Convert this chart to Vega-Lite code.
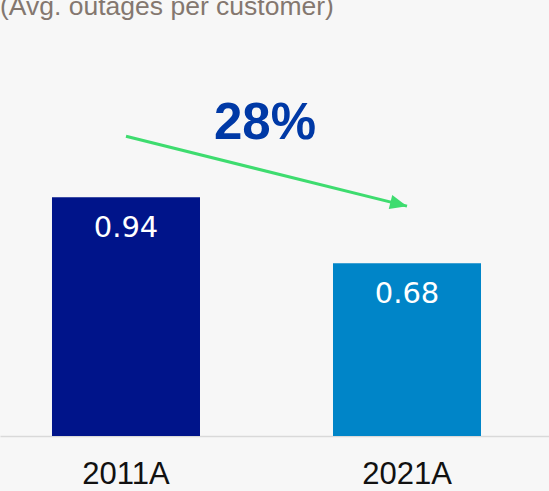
{
  "$schema": "https://vega.github.io/schema/vega-lite/v6.json",
  "width": 549,
  "height": 381,
  "autosize": {"type": "none"},
  "padding": {"top": 55, "left": 0, "right": 0, "bottom": 55},
  "background": "#f7f7f7",
  "title": {
    "text": "(Avg. outages per customer)",
    "anchor": "start",
    "frame": "group",
    "font": "Liberation Sans",
    "fontSize": 26.5,
    "fontWeight": "normal",
    "color": "#84776f",
    "baseline": "alphabetic",
    "offset": 34,
    "dy": 20
  },
  "config": {
    "view": {"stroke": null},
    "axisX": {
      "title": null,
      "labelFont": "Liberation Sans",
      "labelFontSize": 31,
      "labelColor": "#111111",
      "labelPadding": 47,
      "labelBaseline": "alphabetic",
      "labelAngle": 0,
      "ticks": false,
      "tickSize": 0,
      "domainColor": "#d9d9d9",
      "domainWidth": 1.5,
      "grid": false
    }
  },
  "encoding": {
    "x": {
      "field": "period",
      "type": "nominal",
      "scale": {"domain": ["2011A", "2021A"], "paddingInner": 0.4733, "paddingOuter": 0.2135, "align": 0.4333},
      "axis": {"title": null}
    }
  },
  "layer": [
    {
      "data": {"values": [
        {"period": "2011A", "value": 0.94, "label": "0.94"},
        {"period": "2021A", "value": 0.68, "label": "0.68"}
      ]},
      "layer": [
        {
          "mark": {"type": "bar"},
          "encoding": {
            "y": {"field": "value", "type": "quantitative", "scale": {"domain": [0, 1.5], "nice": false, "zero": true}, "axis": null},
            "color": {"field": "period", "type": "nominal", "scale": {"domain": ["2011A", "2021A"], "range": ["#00148a", "#0085c8"]}, "legend": null}
          }
        },
        {
          "mark": {"type": "text", "color": "#ffffff", "font": "DejaVu Sans", "fontSize": 29, "baseline": "alphabetic", "dy": 40},
          "encoding": {
            "y": {"field": "value", "type": "quantitative", "scale": {"domain": [0, 1.5], "nice": false}},
            "text": {"field": "label"}
          }
        }
      ]
    },
    {
      "data": {"values": [{"period": "2011A", "to": "2021A", "y1": 1.18, "y2": 0.905, "change": "28%", "ly": 1.17}]},
      "layer": [
        {
          "mark": {"type": "rule", "color": "#3edc6f", "strokeWidth": 3},
          "encoding": {
            "x2": {"field": "to"},
            "y": {"field": "y1", "type": "quantitative", "scale": {"domain": [0, 1.5], "nice": false}},
            "y2": {"field": "y2"}
          }
        },
        {
          "mark": {"type": "point", "shape": "M0,0L-2,-0.85L-2,0.85Z", "filled": true, "color": "#3edc6f", "opacity": 1, "size": 289, "angle": 14},
          "encoding": {
            "x": {"field": "to", "type": "nominal"},
            "y": {"field": "y2", "type": "quantitative", "scale": {"domain": [0, 1.5], "nice": false}}
          }
        },
        {
          "mark": {"type": "text", "font": "Liberation Sans", "fontWeight": "bold", "fontSize": 51, "color": "#0039a6", "baseline": "alphabetic", "dx": 139},
          "encoding": {
            "y": {"field": "ly", "type": "quantitative", "scale": {"domain": [0, 1.5], "nice": false}},
            "text": {"field": "change"}
          }
        }
      ]
    }
  ]
}
